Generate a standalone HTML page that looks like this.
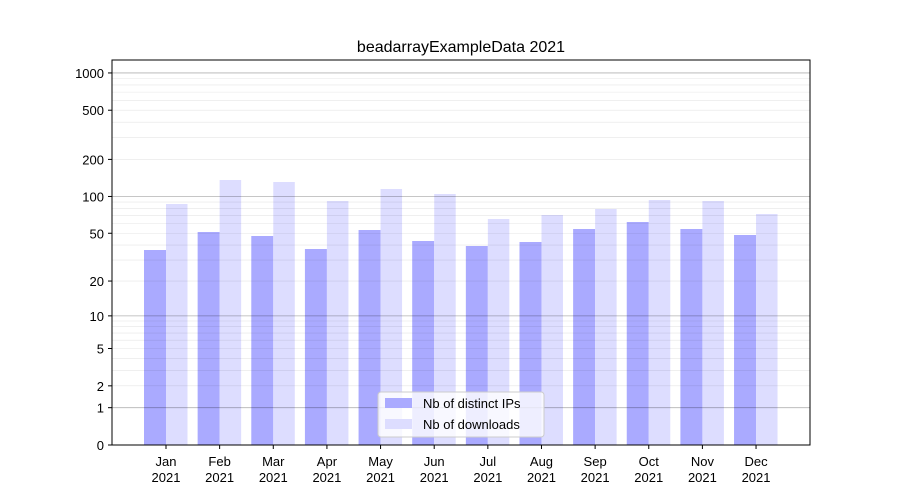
<!DOCTYPE html>
<html><head><meta charset="utf-8"><style>body{margin:0;background:#fff}svg{display:block}</style></head><body>
<svg width="900" height="500" xmlns="http://www.w3.org/2000/svg" font-family="Liberation Sans, DejaVu Sans, sans-serif">
<rect width="900" height="500" fill="#fff"/>
<g id="bars"></g>
<g id="grid"></g>
<rect x="112" y="60" width="698" height="385" fill="none" stroke="#000" stroke-width="1"/>
<text x="461" y="52" font-size="16" text-anchor="middle">beadarrayExampleData 2021</text>
<g id="yt" font-size="13" text-anchor="end"></g>
<g id="xt" font-size="13" text-anchor="middle"></g>
<g>
<rect x="378" y="392" width="166" height="45" rx="3" fill="#fff" fill-opacity="0.8" stroke="#ccc"/>
<rect x="385" y="398" width="27" height="10" fill="#aaaaff"/>
<text x="423" y="408" font-size="13">Nb of distinct IPs</text>
<rect x="385" y="419" width="27" height="10" fill="#ddddff"/>
<text x="423" y="429" font-size="13">Nb of downloads</text>
</g>
<script>
var ns="http://www.w3.org/2000/svg";
function Y(v){return 445-124*Math.log10(v+1);}
function el(p,t,a,txt){var e=document.createElementNS(ns,t);for(var k in a)e.setAttribute(k,a[k]);if(txt!=null)e.textContent=txt;document.getElementById(p).appendChild(e);}
[1,10,100,1000].forEach(function(d){for(var m=1;m<10;m++){var v=d*m;if(v>1100)break;var y=Y(v);el("grid","line",{x1:112,x2:810,y1:y,y2:y,stroke:m==1?"#000":"#000","stroke-opacity":m==1?0.3:0.1,"stroke-width":m==1?0.8:0.6});}});
[0,1,2,5,10,20,50,100,200,500,1000].forEach(function(v){var y=Y(v);el("yt","line",{x1:108,x2:112,y1:y,y2:y,stroke:"#000"});el("yt","text",{x:104,y:y+5},String(v));});
var m=["Jan","Feb","Mar","Apr","May","Jun","Jul","Aug","Sep","Oct","Nov","Dec"];
var a=[250,232,236,249,230,241,246,242,229,222,229,235];
var b=[204,180,182,201,189,194,219,215,209,200,201,214];
for(var i=0;i<12;i++){var c=166+i*53.64;
el("bars","rect",{x:c-22,y:a[i],width:22,height:445-a[i],fill:"#aaaaff"});
el("bars","rect",{x:c,y:b[i],width:21.5,height:445-b[i],fill:"#ddddff"});
el("xt","line",{x1:c,x2:c,y1:445,y2:449,stroke:"#000"});
el("xt","text",{x:c,y:466},m[i]);el("xt","text",{x:c,y:482},"2021");}
</script>
</svg>
</body></html>
